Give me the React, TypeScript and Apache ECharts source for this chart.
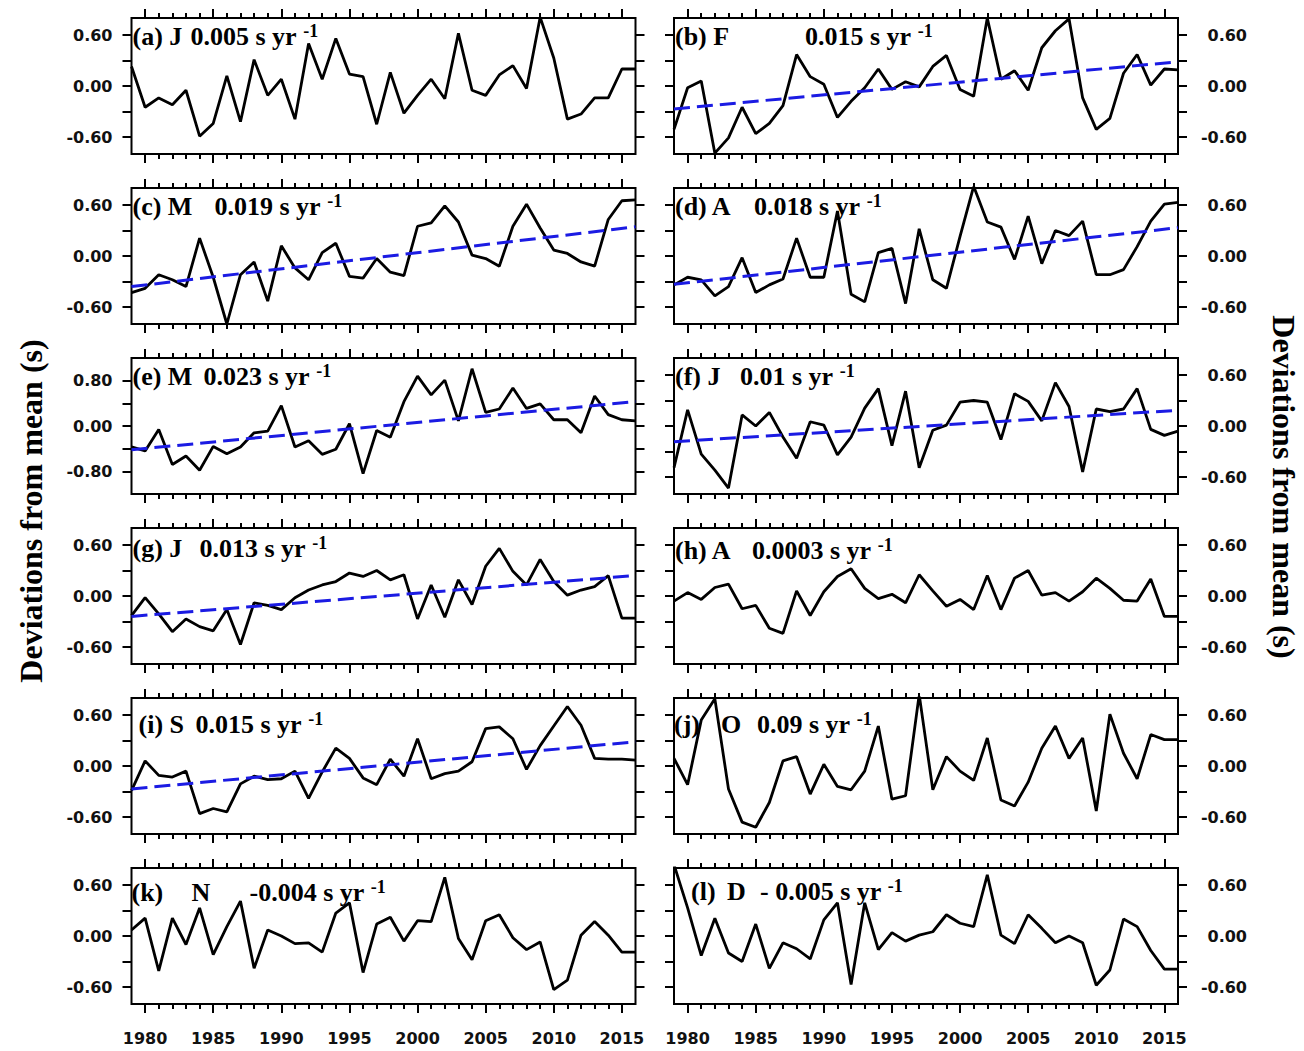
import React, { useEffect, useRef } from "react";
import * as echarts from "echarts";

// ---- data ----------------------------------------------------------------
const years = [
  1979, 1980, 1981, 1982, 1983, 1984, 1985, 1986, 1987, 1988, 1989, 1990, 1991,
  1992, 1993, 1994, 1995, 1996, 1997, 1998, 1999, 2000, 2001, 2002, 2003, 2004,
  2005, 2006, 2007, 2008, 2009, 2010, 2011, 2012, 2013, 2014, 2015, 2016,
];
const majorYears = [1980, 1985, 1990, 1995, 2000, 2005, 2010, 2015];

// monthly deviations from the long-term mean (s)
const janDev = [0.23, -0.25, -0.14, -0.22, -0.05, -0.59, -0.44, 0.12, -0.42, 0.31, -0.11, 0.08, -0.39, 0.5, 0.08, 0.56, 0.14, 0.11, -0.45, 0.16, -0.32, -0.11, 0.08, -0.15, 0.62, -0.05, -0.11, 0.13, 0.24, -0.03, 0.81, 0.33, -0.39, -0.33, -0.14, -0.14, 0.2, 0.2];
const febDev = [-0.51, -0.02, 0.06, -0.79, -0.61, -0.25, -0.56, -0.44, -0.23, 0.37, 0.11, 0.02, -0.37, -0.18, -0.02, 0.2, -0.04, 0.05, -0.01, 0.23, 0.36, -0.04, -0.12, 0.8, 0.08, 0.18, -0.05, 0.45, 0.65, 0.79, -0.14, -0.51, -0.38, 0.15, 0.37, 0.01, 0.2, 0.19];
const marDev = [-0.43, -0.38, -0.22, -0.28, -0.36, 0.21, -0.25, -0.8, -0.22, -0.07, -0.53, 0.12, -0.14, -0.28, 0.04, 0.15, -0.24, -0.26, -0.03, -0.19, -0.23, 0.35, 0.39, 0.59, 0.4, 0.01, -0.03, -0.12, 0.35, 0.61, 0.33, 0.07, 0.03, -0.07, -0.12, 0.43, 0.65, 0.66];
const aprDev = [-0.34, -0.25, -0.28, -0.47, -0.36, -0.02, -0.43, -0.34, -0.27, 0.21, -0.25, -0.25, 0.53, -0.45, -0.54, 0.04, 0.09, -0.56, 0.32, -0.28, -0.38, 0.23, 0.82, 0.4, 0.34, -0.04, 0.47, -0.09, 0.3, 0.24, 0.41, -0.22, -0.22, -0.16, 0.11, 0.41, 0.61, 0.63];
const mayDev = [-0.37, -0.44, -0.06, -0.68, -0.53, -0.78, -0.36, -0.49, -0.37, -0.12, -0.09, 0.36, -0.37, -0.26, -0.5, -0.41, 0.04, -0.84, -0.08, -0.2, 0.43, 0.88, 0.55, 0.81, 0.09, 1.01, 0.24, 0.3, 0.67, 0.31, 0.39, 0.11, 0.11, -0.12, 0.53, 0.2, 0.11, 0.09];
const junDev = [-0.49, 0.19, -0.33, -0.52, -0.73, 0.13, 0.0, 0.16, -0.13, -0.38, 0.05, 0.01, -0.34, -0.13, 0.21, 0.44, -0.23, 0.41, -0.49, -0.05, 0.01, 0.28, 0.3, 0.28, -0.16, 0.38, 0.29, 0.06, 0.51, 0.23, -0.54, 0.2, 0.17, 0.2, 0.44, -0.04, -0.11, -0.06];
const julDev = [-0.23, -0.02, -0.21, -0.42, -0.27, -0.36, -0.41, -0.16, -0.57, -0.08, -0.11, -0.16, -0.02, 0.07, 0.13, 0.17, 0.27, 0.23, 0.3, 0.19, 0.25, -0.27, 0.13, -0.25, 0.19, -0.1, 0.35, 0.56, 0.29, 0.13, 0.43, 0.17, 0.01, 0.07, 0.11, 0.24, -0.26, -0.26];
const augDev = [-0.06, 0.04, -0.04, 0.1, 0.14, -0.15, -0.11, -0.38, -0.44, 0.06, -0.23, 0.05, 0.23, 0.32, 0.09, -0.03, 0.02, -0.08, 0.25, 0.06, -0.12, -0.04, -0.16, 0.24, -0.16, 0.21, 0.3, 0.01, 0.04, -0.06, 0.05, 0.21, 0.09, -0.05, -0.06, 0.2, -0.24, -0.24];
const sepDev = [-0.29, 0.06, -0.11, -0.13, -0.06, -0.56, -0.5, -0.54, -0.21, -0.12, -0.16, -0.15, -0.06, -0.38, -0.07, 0.21, 0.09, -0.14, -0.22, 0.08, -0.12, 0.32, -0.15, -0.09, -0.06, 0.05, 0.44, 0.46, 0.32, -0.04, 0.24, 0.47, 0.7, 0.48, 0.09, 0.08, 0.08, 0.07];
const octDev = [0.09, -0.22, 0.54, 0.79, -0.27, -0.66, -0.72, -0.43, 0.06, 0.11, -0.33, 0.02, -0.24, -0.28, -0.06, 0.47, -0.39, -0.35, 0.84, -0.28, 0.11, -0.06, -0.17, 0.33, -0.4, -0.47, -0.19, 0.21, 0.47, 0.09, 0.33, -0.53, 0.61, 0.15, -0.15, 0.37, 0.31, 0.31];
const novDev = [0.07, 0.21, -0.41, 0.21, -0.1, 0.33, -0.22, 0.11, 0.41, -0.38, 0.07, 0.0, -0.09, -0.08, -0.19, 0.27, 0.39, -0.43, 0.14, 0.22, -0.06, 0.18, 0.17, 0.69, -0.03, -0.28, 0.18, 0.25, -0.02, -0.16, -0.07, -0.63, -0.52, 0.01, 0.17, 0.01, -0.19, -0.19];
const decDev = [0.84, 0.33, -0.23, 0.21, -0.2, -0.3, 0.14, -0.38, -0.08, -0.15, -0.27, 0.19, 0.39, -0.57, 0.39, -0.16, 0.04, -0.06, 0.01, 0.05, 0.25, 0.15, 0.11, 0.72, 0.01, -0.09, 0.25, 0.09, -0.08, 0.0, -0.08, -0.58, -0.4, 0.2, 0.11, -0.17, -0.39, -0.39];

const monthlyDev = [janDev, febDev, marDev, aprDev, mayDev, junDev, julDev, augDev, sepDev, octDev, novDev, decDev];

// linear trend (s per year) and its value in 1979; null = no fitted line drawn
const trendSlope = [null, 0.015, 0.019, 0.018, 0.023, 0.01, 0.013, null, 0.015, null, null, null];
const trendStart = [null, -0.27, -0.36, -0.333, -0.42, -0.185, -0.24, null, -0.27, null, null, null];

// panel captions
const panelTags = [["(a) J"], ["(b) F"], ["(c) M"], ["(d) A"], ["(e) M"], ["(f) J"], ["(g) J"], ["(h) A"], ["(i) S"], ["(j)", "O"], ["(k)", "N"], ["(l)", "D"]];
const panelRates = ["0.005", "0.015", "0.019", "0.018", "0.023", "0.01", "0.013", "0.0003", "0.015", "0.09", "-0.004", "- 0.005"];

// y-axis ticks / labels
const yTicksStd = [-0.6, -0.3, 0, 0.3, 0.6];
const yLabelsStd = [-0.6, 0, 0.6];
const yTicksWide = [-0.8, -0.4, 0, 0.4, 0.8];
const yLabelsWide = [-0.8, 0, 0.8];

const axisTitle = "Deviations from mean (s)";

// ---- layout ----------------------------------------------------------------
const FRAME_LEFT = [131.5, 674];
const FRAME_WIDTH = 504;
const FRAME_TOP = 18;
const ROW_STEP = 170;
const FRAME_HEIGHT = 136;

// caption piece offsets from the frame's left edge, and caption centre below its top
const CAPTION_LAYOUT = [
  { tags: [1], rate: 59, dy: 18 },
  { tags: [1], rate: 131, dy: 18 },
  { tags: [1], rate: 83, dy: 18 },
  { tags: [1], rate: 80, dy: 18 },
  { tags: [1], rate: 72, dy: 18 },
  { tags: [1], rate: 66, dy: 18 },
  { tags: [1], rate: 68, dy: 20 },
  { tags: [1], rate: 78, dy: 22 },
  { tags: [7], rate: 64, dy: 26 },
  { tags: [0, 47], rate: 83, dy: 26 },
  { tags: [0, 60], rate: 118, dy: 24 },
  { tags: [17, 53], rate: 86, dy: 23 },
];

const SERIF = "Liberation Serif";
const SANS = "DejaVu Sans";
const TREND_BLUE = "#1b1be3";
const CAPTION_SIZE = 26;

function buildOption() {
  const grids: any[] = [];
  const xAxes: any[] = [];
  const yAxes: any[] = [];
  const series: any[] = [];
  const graphics: any[] = [];

  const tickLine = { color: "#000", width: 2 };
  const tickText = { fontFamily: SANS, fontWeight: "bold", fontSize: 16, color: "#111" };

  monthlyDev.forEach((values, i) => {
    const row = Math.floor(i / 2);
    const col = i % 2;
    const left = FRAME_LEFT[col];
    const top = FRAME_TOP + ROW_STEP * row;
    const wide = i === 4;
    const yMax = wide ? 1.2 : 0.8;
    const yTicks = wide ? yTicksWide : yTicksStd;
    const yLabels = wide ? yLabelsWide : yLabelsStd;
    const bottomRow = row === 5;

    grids.push({
      left,
      top,
      width: FRAME_WIDTH,
      height: FRAME_HEIGHT,
      show: true,
      borderColor: "#000",
      borderWidth: 2,
      backgroundColor: "rgba(0,0,0,0)",
      outerBoundsMode: "none",
    });

    (["bottom", "top"] as const).forEach((pos) => {
      // yearly minor ticks
      xAxes.push({
        gridIndex: i,
        type: "value",
        position: pos,
        min: 1979,
        max: 2016,
        axisLine: { show: false, onZero: false },
        splitLine: { show: false },
        axisTick: { show: true, customValues: years.slice(1, -1), length: 5, lineStyle: tickLine },
        axisLabel: { show: false },
      });
      // five-year major ticks
      xAxes.push({
        gridIndex: i,
        type: "value",
        position: pos,
        min: 1979,
        max: 2016,
        axisLine: { show: false, onZero: false },
        splitLine: { show: false },
        axisTick: { show: true, customValues: majorYears, length: 9, lineStyle: tickLine },
        axisLabel: {
          show: pos === "bottom" && bottomRow,
          customValues: majorYears,
          formatter: (v: number) => String(v),
          margin: 26,
          ...tickText,
        },
      });
    });

    (["left", "right"] as const).forEach((pos) => {
      const labelled = (pos === "left" && col === 0) || (pos === "right" && col === 1);
      yAxes.push({
        gridIndex: i,
        type: "value",
        position: pos,
        min: -yMax,
        max: yMax,
        axisLine: { show: false, onZero: false },
        splitLine: { show: false },
        axisTick: { show: true, customValues: yTicks, length: 9, lineStyle: tickLine },
        axisLabel: {
          show: labelled,
          customValues: yLabels,
          formatter: (v: number) => v.toFixed(2),
          margin: pos === "left" ? 19 : 69,
          align: "right",
          ...tickText,
        },
      });
    });

    series.push({
      type: "line",
      xAxisIndex: 4 * i,
      yAxisIndex: 2 * i,
      data: years.map((yr, k) => [yr, values[k]]),
      symbol: "none",
      clip: true,
      lineStyle: { color: "#000", width: 2.8 },
      z: 3,
    });

    const slope = trendSlope[i];
    const start = trendStart[i];
    if (slope !== null && start !== null) {
      const x0 = years[0];
      const x1 = years[years.length - 1];
      series.push({
        type: "line",
        xAxisIndex: 4 * i,
        yAxisIndex: 2 * i,
        data: [
          [x0, start],
          [x1, start + slope * (x1 - x0)],
        ],
        symbol: "none",
        clip: true,
        lineStyle: { color: TREND_BLUE, width: 3, type: [16, 7] },
        z: 4,
      });
    }

    // caption: tag pieces, then the trend rate with a superscript -1
    const lay = CAPTION_LAYOUT[i];
    const cy = top + lay.dy;
    panelTags[i].forEach((t, k) => {
      graphics.push({
        type: "text",
        x: left + lay.tags[k],
        y: cy,
        z: 100,
        style: {
          text: t,
          fontFamily: SERIF,
          fontWeight: "bold",
          fontSize: CAPTION_SIZE,
          fill: "#000",
          align: "left",
          verticalAlign: "middle",
        },
      });
    });
    graphics.push({
      type: "text",
      x: left + lay.rate,
      y: cy,
      z: 100,
      style: {
        text: `{m|${panelRates[i]} s yr }{s|-1}`,
        align: "left",
        verticalAlign: "middle",
        rich: {
          m: { fontFamily: SERIF, fontWeight: "bold", fontSize: CAPTION_SIZE, lineHeight: 28, fill: "#000", color: "#000" },
          s: { fontFamily: SERIF, fontWeight: "bold", fontSize: 18, lineHeight: 16, verticalAlign: "top", fill: "#000", color: "#000" },
        },
      },
    });
  });

  // shared axis titles
  const titleStyle = {
    text: axisTitle,
    fontFamily: SERIF,
    fontWeight: "bold",
    fontSize: 32,
    fill: "#000",
    align: "center",
    verticalAlign: "middle",
  };
  graphics.push({ type: "text", x: 31, y: 511, rotation: Math.PI / 2, z: 100, style: titleStyle });
  graphics.push({ type: "text", x: 1284, y: 487, rotation: -Math.PI / 2, z: 100, style: titleStyle });

  return {
    animation: false,
    backgroundColor: "#fff",
    grid: grids,
    xAxis: xAxes,
    yAxis: yAxes,
    series,
    graphic: { elements: graphics },
  };
}

export default function App() {
  const ref = useRef<HTMLDivElement>(null);
  useEffect(() => {
    if (!ref.current) return;
    const chart = echarts.init(ref.current, null, { renderer: "svg" });
    chart.setOption(buildOption());
    return () => chart.dispose();
  }, []);
  return (
    <div
      ref={ref}
      style={{ position: "absolute", left: 0, top: 0, width: 1304, height: 1051, background: "#fff" }}
    />
  );
}
